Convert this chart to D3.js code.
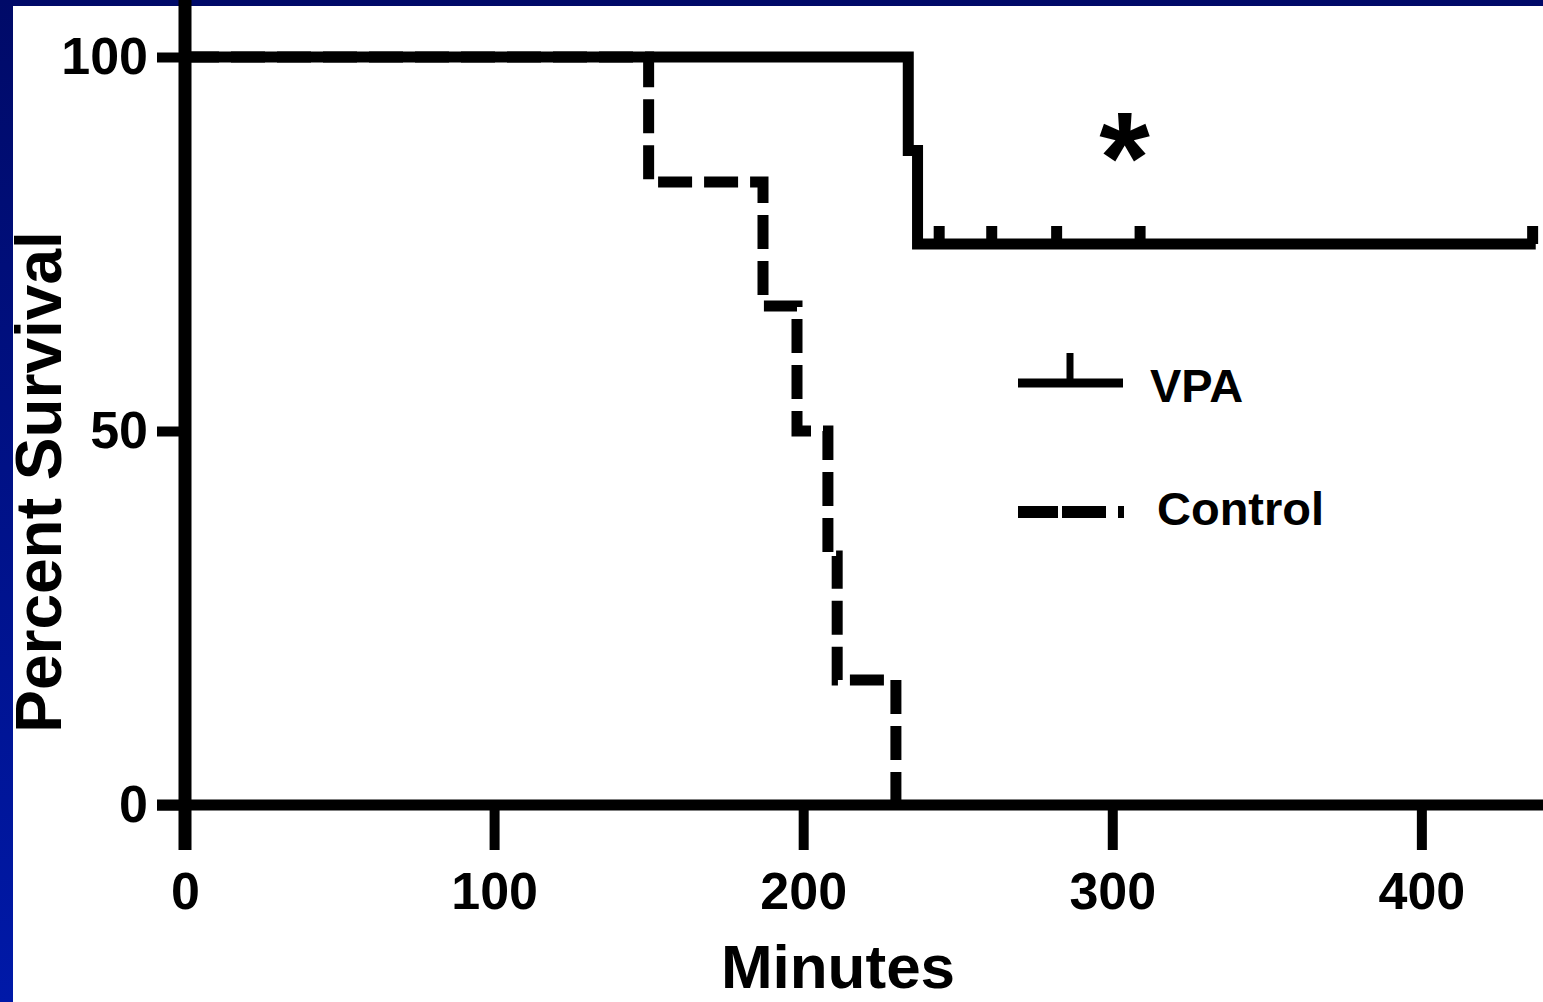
<!DOCTYPE html>
<html>
<head>
<meta charset="utf-8">
<script src="https://cdn.jsdelivr.net/npm/d3@7"></script>
<style>
  body { margin: 0; background: #fff; }
  svg { display: block; }
</style>
</head>
<body>
<script>
// Data
const xTicks = [0, 100, 200, 300, 400];
const yTicks = [0, 50, 100];
const vpaTimes = [0, 234, 237, 437];
const vpaSurvival = [100, 87.5, 75, 75];
const vpaCensored = [244, 261, 282, 309, 436];
const controlTimes = [0, 150, 187, 198, 208, 211, 230];
const controlSurvival = [100, 83.3, 66.7, 50, 33.3, 16.7, 0];
const seriesNames = ['VPA', 'Control'];

const W = 1543, H = 1002;
const font = 'Arial, "Liberation Sans", Helvetica, sans-serif';

const svg = d3.select('body').append('svg')
  .attr('width', W)
  .attr('height', H);

// Blue slide frame behind a white plot area
const grad = svg.append('defs').append('linearGradient')
  .attr('id', 'frame')
  .attr('x1', 0).attr('y1', 0).attr('x2', 0).attr('y2', 1);
grad.append('stop').attr('offset', '0%').attr('stop-color', '#000a68');
grad.append('stop').attr('offset', '100%').attr('stop-color', '#0019a8');

svg.append('rect').attr('width', W).attr('height', H).attr('fill', 'url(#frame)');
svg.append('rect').attr('x', 13).attr('y', 6)
  .attr('width', W - 13).attr('height', H - 6).attr('fill', '#fff');

// Scales
const x = d3.scaleLinear().domain([0, 440]).range([185, 1545]);
const y = d3.scaleLinear().domain([0, 100]).range([805, 57]);

// Axes
const xAxis = svg.append('g')
  .attr('transform', `translate(0,${y(0)})`)
  .call(d3.axisBottom(x).tickValues(xTicks).tickSize(45).tickPadding(22).tickFormat(d3.format('d')));

const yAxis = svg.append('g')
  .attr('transform', `translate(${x(0)},0)`)
  .call(d3.axisLeft(y).tickValues(yTicks).tickSize(28).tickPadding(9).tickFormat(d3.format('d')));

[xAxis, yAxis].forEach(a => {
  a.select('.domain').remove();
  a.selectAll('line').attr('stroke', '#000').attr('stroke-width', 10);
  a.selectAll('text')
    .attr('fill', '#000')
    .attr('font-family', font)
    .attr('font-weight', 'bold')
    .attr('font-size', 52);
});

// Axis lines
svg.append('line')
  .attr('x1', x(0) - 28).attr('x2', W)
  .attr('y1', y(0)).attr('y2', y(0))
  .attr('stroke', '#000').attr('stroke-width', 11);

svg.append('line')
  .attr('x1', x(0)).attr('x2', x(0))
  .attr('y1', 0).attr('y2', y(0) + 45)
  .attr('stroke', '#000').attr('stroke-width', 13);

// Survival curves
const step = d3.line()
  .x(d => x(d[0]))
  .y(d => y(d[1]))
  .curve(d3.curveStepAfter);

svg.append('path')
  .datum(controlTimes.map((t, i) => [t, controlSurvival[i]]))
  .attr('fill', 'none')
  .attr('stroke', '#000')
  .attr('stroke-width', 11)
  .attr('stroke-dasharray', '34,12')
  .attr('d', step);

svg.append('path')
  .datum(vpaTimes.map((t, i) => [t, vpaSurvival[i]]))
  .attr('fill', 'none')
  .attr('stroke', '#000')
  .attr('stroke-width', 11)
  .attr('d', step);

// Censor marks on VPA
svg.selectAll('.censor')
  .data(vpaCensored)
  .enter().append('line')
  .attr('class', 'censor')
  .attr('x1', d => x(d)).attr('x2', d => x(d))
  .attr('y1', y(75)).attr('y2', y(75) - 18)
  .attr('stroke', '#000')
  .attr('stroke-width', 11);

// Significance mark
svg.append('text')
  .attr('x', x(304))
  .attr('y', 203)
  .attr('text-anchor', 'middle')
  .attr('font-family', font)
  .attr('font-weight', 'bold')
  .attr('font-size', 130)
  .text('*');

// Legend
const lg = svg.append('g');
lg.append('line')
  .attr('x1', 1018).attr('x2', 1123).attr('y1', 383).attr('y2', 383)
  .attr('stroke', '#000').attr('stroke-width', 9);
lg.append('line')
  .attr('x1', 1070).attr('x2', 1070).attr('y1', 353).attr('y2', 383)
  .attr('stroke', '#000').attr('stroke-width', 7);
lg.append('line')
  .attr('x1', 1018).attr('x2', 1128).attr('y1', 512).attr('y2', 512)
  .attr('stroke', '#000').attr('stroke-width', 12)
  .attr('stroke-dasharray', '40,4,44,12,6');

lg.selectAll('.lab')
  .data(seriesNames)
  .enter().append('text')
  .attr('class', 'lab')
  .attr('x', (d, i) => i === 0 ? 1150 : 1157)
  .attr('y', (d, i) => i === 0 ? 402 : 525)
  .attr('font-family', font)
  .attr('font-weight', 'bold')
  .attr('font-size', 47)
  .text(d => d);

// Axis titles
svg.append('text')
  .attr('transform', 'translate(61,482) rotate(-90)')
  .attr('text-anchor', 'middle')
  .attr('font-family', font)
  .attr('font-weight', 'bold')
  .attr('font-size', 64)
  .text('Percent Survival');

svg.append('text')
  .attr('x', 838)
  .attr('y', 988)
  .attr('text-anchor', 'middle')
  .attr('font-family', font)
  .attr('font-weight', 'bold')
  .attr('font-size', 62)
  .text('Minutes');
</script>
</body>
</html>
